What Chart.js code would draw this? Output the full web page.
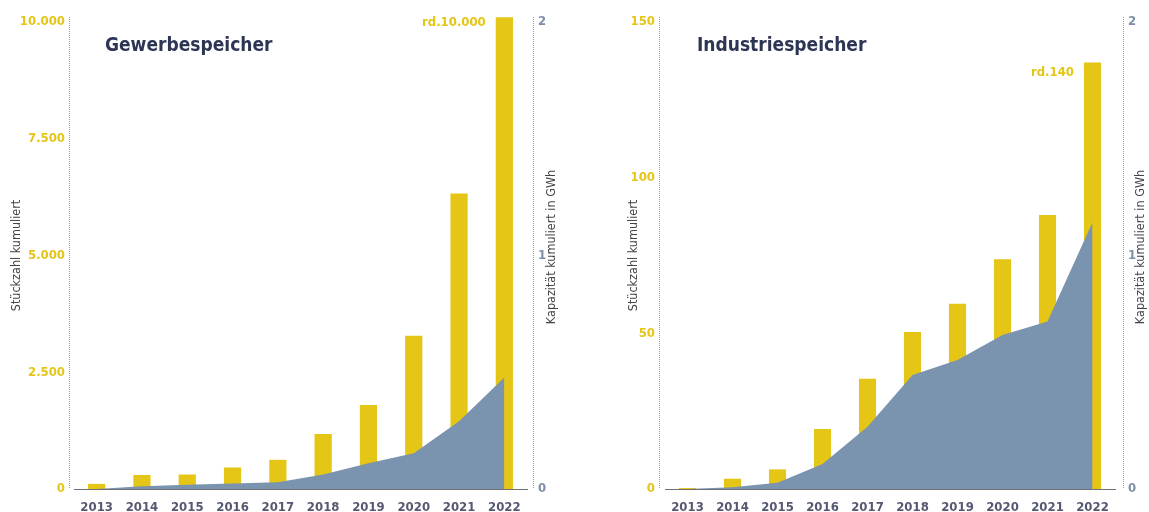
<!DOCTYPE html>
<html lang="de">
<head>
<meta charset="utf-8">
<title>Gewerbe- und Industriespeicher</title>
<script src="https://cdn.jsdelivr.net/npm/chart.js@4.4.1/dist/chart.umd.min.js"></script>
<style>
  html, body { margin: 0; padding: 0; background: #fff; }
  #wrap { position: relative; width: 1149px; height: 512px; overflow: hidden; }
  .panel { position: absolute; top: 0; height: 512px; }
  #left { left: 0; width: 580px; }
  #right { left: 590px; width: 559px; }
</style>
</head>
<body>
<div id="wrap">
  <div class="panel" id="left"><canvas id="gewerbeChart"></canvas></div>
  <div class="panel" id="right"><canvas id="industrieChart"></canvas></div>
</div>
<script>
const years = ['2013', '2014', '2015', '2016', '2017', '2018', '2019', '2020', '2021', '2022'];

// Gewerbespeicher
const gewerbeStueck = [110, 300, 310, 460, 625, 1180, 1800, 3280, 6330, 10100];
const gewerbeGWh = [0, 0.012, 0.018, 0.024, 0.029, 0.062, 0.11, 0.153, 0.29, 0.478];
const gewerbeStueckTicks = [0, 2500, 5000, 7500, 10000];

// Industriespeicher
const industrieStueck = [0.3, 3.3, 6.3, 19.3, 35.4, 50.4, 59.5, 73.8, 88, 137];
const industrieGWh = [0, 0.007, 0.027, 0.107, 0.267, 0.488, 0.552, 0.66, 0.717, 1.142];
const industrieStueckTicks = [0, 50, 100, 150];

const gwhTicks = [0, 1, 2];

const FONT = "'DejaVu Sans Condensed', 'DejaVu Sans', sans-serif";
const YELLOW = '#e5c515';
const AREA = '#7a93ae';
const BLUEGREY = '#7d8fa8';

Chart.defaults.font.family = FONT;

// punkt als tausendertrenner
const fmt = v => String(v).replace(/\B(?=(\d{3})+(?!\d))/g, '.');

const panelDecor = {
    id: 'panelDecor',
    beforeDatasetsDraw(chart, args, opts) {
        const ctx = chart.ctx;
        const area = chart.chartArea;
        ctx.save();
        ctx.strokeStyle = '#93a3b9';
        ctx.lineWidth = 1;
        ctx.setLineDash([1, 1]);
        [opts.lineLeft, opts.lineRight].forEach(x => {
            ctx.beginPath();
            ctx.moveTo(x + 0.5, 17);
            ctx.lineTo(x + 0.5, area.bottom);
            ctx.stroke();
        });
        ctx.restore();
    },
    afterDraw(chart, args, opts) {
        const ctx = chart.ctx;
        ctx.save();
        // Titel
        ctx.fillStyle = '#2c3553';
        ctx.font = 'bold 19px ' + FONT;
        ctx.textBaseline = 'middle';
        ctx.textAlign = 'left';
        ctx.fillText(opts.title, opts.titleX, 46);

        // rechte Achse, von unten nach oben gelesen
        ctx.save();
        ctx.translate(opts.y1TitleX, 247);
        ctx.rotate(-Math.PI / 2);
        ctx.textAlign = 'center';
        ctx.font = '12.5px ' + FONT;
        ctx.fillStyle = '#444';
        ctx.fillText(opts.y1Title, 0, 0);
        ctx.restore();

        // Hinweis am letzten Balken
        const meta = chart.getDatasetMeta(0);
        const bar = meta.data[meta.data.length - 1];
        ctx.fillStyle = YELLOW;
        ctx.font = 'bold 13px ' + FONT;
        ctx.textAlign = 'right';
        ctx.fillText(opts.note, bar.x - bar.width / 2 - 10, bar.y + opts.noteDy);
        ctx.restore();
    }
};

function makeChart(id, cfg) {
    new Chart(document.getElementById(id), {
        type: 'bar',
        data: {
            labels: years,
            datasets: [{
                label: 'Stückzahl kumuliert',
                data: cfg.bars,
                yAxisID: 'y',
                backgroundColor: YELLOW,
                barPercentage: 0.38,
                categoryPercentage: 1,
                clip: false,
                order: 1
            }, {
                type: 'line',
                label: 'Kapazität kumuliert in GWh',
                data: cfg.area,
                yAxisID: 'y1',
                fill: 'origin',
                backgroundColor: AREA,
                borderWidth: 0,
                pointRadius: 0,
                tension: 0,
                order: 0
            }]
        },
        options: {
            responsive: true,
            maintainAspectRatio: false,
            animation: false,
            layout: { padding: { top: 22, left: 0, right: 0, bottom: 0 } },
            plugins: {
                legend: { display: false },
                tooltip: { enabled: false },
                panelDecor: cfg.decor
            },
            scales: {
                x: {
                    grid: { display: false },
                    border: { display: true, color: '#6f6f78', width: 1, dash: [2, 1] },
                    ticks: { color: '#545870', font: { size: 13, weight: 'bold' }, padding: 3, maxRotation: 0 },
                    afterFit: s => { s.height = 23; }
                },
                y: {
                    position: 'left',
                    min: 0,
                    max: cfg.yMax,
                    grid: { display: false, drawTicks: false },
                    border: { display: false },
                    afterBuildTicks: s => { s.ticks = cfg.yTicks.map(v => ({ value: v })); },
                    ticks: { color: YELLOW, font: { size: 13, weight: 'bold' }, padding: cfg.yPad, callback: v => fmt(v) },
                    title: {
                        display: true,
                        text: 'Stückzahl kumuliert',
                        color: '#444',
                        font: { size: 12.5 },
                        padding: { top: cfg.yTitlePad, bottom: 0 }
                    },
                    afterFit: s => { s.width = cfg.yWidth; }
                },
                y1: {
                    position: 'right',
                    min: 0,
                    max: 2,
                    grid: { display: false, drawTicks: false },
                    border: { display: false },
                    afterBuildTicks: s => { s.ticks = gwhTicks.map(v => ({ value: v })); },
                    ticks: { color: BLUEGREY, font: { size: 13, weight: 'bold' }, padding: cfg.y1Pad },
                    afterFit: s => { s.width = cfg.y1Width; }
                }
            }
        },
        plugins: [panelDecor]
    });
}

makeChart('gewerbeChart', {
    bars: gewerbeStueck,
    area: gewerbeGWh,
    yMax: 10000,
    yTicks: gewerbeStueckTicks,
    yWidth: 74,
    yPad: 9,
    yTitlePad: 9.5,
    y1Width: 53,
    y1Pad: 11,
    decor: {
        title: 'Gewerbespeicher', titleX: 105,
        y1Title: 'Kapazität kumuliert in GWh', y1TitleX: 552,
        lineLeft: 69, lineRight: 533,
        note: 'rd.10.000', noteDy: 5
    }
});

makeChart('industrieChart', {
    bars: industrieStueck,
    area: industrieGWh,
    yMax: 150,
    yTicks: industrieStueckTicks,
    yWidth: 75,
    yPad: 10,
    yTitlePad: 36.5,
    y1Width: 34,
    y1Pad: 13,
    decor: {
        title: 'Industriespeicher', titleX: 107,
        y1Title: 'Kapazität kumuliert in GWh', y1TitleX: 551,
        lineLeft: 69, lineRight: 533,
        note: 'rd.140', noteDy: 10
    }
});
</script>
</body>
</html>
